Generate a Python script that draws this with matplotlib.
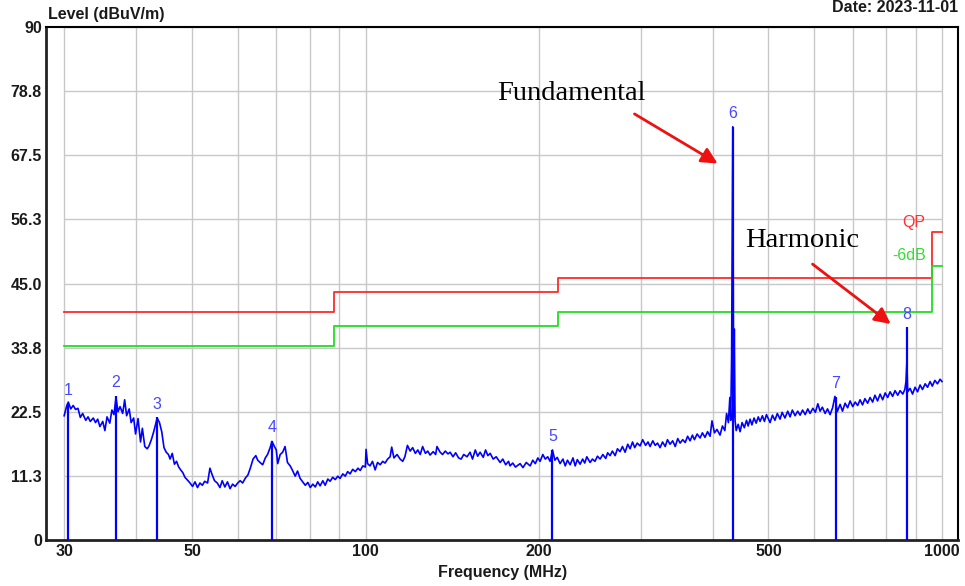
import numpy as np
import matplotlib
matplotlib.use('Agg')
from matplotlib import pyplot as plt

# --- Data section --- #
freq_mhz = [
    30.0, 30.3, 30.5, 30.8, 31.1, 31.4, 31.7, 32.0, 32.3, 32.7, 33.0, 33.3, 33.7, 34.0, 34.3, 34.6,
    35.0, 35.3, 35.6, 36.0, 36.3, 36.6, 36.9, 37.2, 37.5, 37.9, 38.2, 38.5, 38.9, 39.2, 39.6, 39.9,
    40.3, 40.7, 41.0, 41.4, 41.8, 42.1, 42.5, 42.9, 43.2, 43.5, 43.9, 44.3, 44.7, 45.1, 45.5, 45.8,
    46.2, 46.6, 47.0, 47.4, 47.7, 48.2, 48.6, 49.0, 49.6, 50.1, 50.6, 51.1, 51.6, 52.1, 52.6, 53.2,
    53.7, 54.2, 54.7, 55.3, 55.9, 56.4, 57.0, 57.6, 58.2, 58.8, 59.4, 60.0, 60.6, 61.2, 61.9, 62.5,
    63.1, 63.8, 64.5, 65.0, 65.6, 66.3, 67.0, 67.6, 68.3, 68.8, 69.4, 70.0, 70.4, 71.1, 71.8, 72.5,
    73.2, 74.0, 74.7, 75.5, 76.2, 77.0, 77.8, 78.6, 79.4, 80.2, 81.0, 81.8, 82.6, 83.4, 84.3, 85.1,
    86.0, 86.8, 87.7, 88.6, 89.5, 90.3, 91.3, 92.2, 93.1, 94.0, 95.0, 96.0, 97.0, 97.9, 98.9, 99.9,
    100.2, 100.8, 101.8, 102.8, 103.9, 104.9, 106.0, 107.1, 108.1, 109.2, 110.3, 111.0, 112.0, 113.4,
    114.8, 116.0, 117.0, 118.2, 119.5, 120.7, 122.0, 123.2, 124.4, 125.6, 127.0, 128.2, 129.4, 131.0,
    132.3, 133.0, 134.7, 136.0, 137.5, 139.0, 140.2, 141.8, 143.3, 145.0, 146.5, 148.0, 150.0, 151.8,
    153.3, 155.0, 156.5, 158.0, 160.0, 161.5, 163.0, 164.5, 166.5, 168.5, 171.2, 173.0, 175.0, 177.0,
    178.1, 180.0, 182.0, 185.4, 187.5, 190.0, 193.0, 195.0, 197.0, 199.0, 200.8, 203.0, 205.0, 207.0,
    209.0, 211.0, 213.0, 215.0, 217.5, 220.0, 222.0, 224.0, 226.4, 229.0, 231.0, 233.0, 235.6, 238.0,
    240.0, 242.0, 245.2, 247.5, 250.0, 252.5, 255.2, 258.0, 261.0, 263.0, 265.6, 268.0, 271.0, 273.5,
    276.4, 279.0, 282.0, 285.0, 287.7, 290.5, 293.0, 296.0, 299.4, 302.5, 306.0, 309.0, 311.6, 315.0,
    318.0, 321.0, 324.3, 327.5, 331.0, 334.0, 337.5, 341.0, 344.5, 348.0, 351.3, 355.0, 358.5, 362.0,
    365.6, 369.0, 372.0, 376.0, 380.5, 384.0, 388.0, 392.0, 396.0, 399.0, 403.0, 407.0, 412.0, 416.0,
    420.0, 423.0, 426.0, 428.5, 430.0, 431.5, 433.6, 435.0, 436.2, 437.5, 439.5, 443.0, 446.4, 450.0,
    454.0, 458.0, 461.0, 464.6, 468.0, 472.0, 476.0, 480.0, 483.5, 488.0, 492.0, 496.0, 500.0, 503.2,
    508.0, 513.0, 518.0, 523.7, 528.0, 534.0, 540.0, 545.1, 550.0, 556.0, 562.0, 567.3, 573.0, 579.0,
    585.0, 590.4, 597.0, 603.0, 609.0, 614.5, 620.0, 627.0, 633.0, 639.5, 646.0, 652.0, 658.0, 665.6,
    672.0, 679.0, 686.0, 692.7, 700.0, 707.0, 714.0, 720.9, 728.0, 735.0, 743.0, 750.3, 758.0, 765.0,
    773.0, 781.0, 789.0, 797.0, 805.0, 812.7, 821.0, 829.0, 838.0, 846.0, 855.0, 862.0, 866.0, 869.0,
    872.0, 880.3, 889.0, 898.0, 907.0, 916.2, 925.0, 935.0, 944.0, 953.5, 962.0, 972.0, 982.0, 992.4,
    1000.0,
]
level_dbuv = [
    21.8, 23.5, 24.2, 23.0, 23.6, 22.9, 23.1, 21.5, 22.2, 21.0, 21.6, 20.8, 21.4, 20.6, 21.2, 19.9,
    20.8, 19.2, 21.6, 20.5, 22.8, 22.0, 25.0, 22.5, 23.4, 22.2, 24.6, 21.8, 23.0, 20.6, 21.4, 18.6,
    21.3, 17.2, 19.6, 16.4, 16.0, 16.5, 17.6, 19.0, 20.2, 21.4, 20.6, 19.0, 16.2, 15.4, 15.0, 14.2,
    15.2, 13.3, 13.8, 12.8, 12.4, 11.8, 11.0, 10.6, 10.0, 9.4, 10.2, 9.2, 10.0, 9.6, 10.3, 10.0,
    12.6, 11.4, 10.4, 10.0, 9.2, 10.4, 9.3, 10.2, 9.0, 9.8, 9.4, 10.0, 10.4, 10.0, 10.9, 11.4,
    12.6, 14.2, 14.8, 14.0, 13.6, 13.2, 14.4, 15.0, 16.2, 17.3, 16.5, 15.8, 13.4, 15.0, 15.4, 16.4,
    13.6, 13.0, 12.2, 11.2, 12.1, 10.8, 10.2, 9.6, 10.1, 9.2, 9.8, 9.3, 10.2, 9.5, 10.4, 9.6,
    10.7, 10.3, 11.0, 10.6, 11.2, 10.8, 11.6, 11.2, 12.0, 11.6, 12.4, 12.0, 12.6, 12.2, 13.0, 12.8,
    15.9, 13.4, 13.0, 13.8, 12.3, 13.6, 13.2, 13.8, 13.5, 14.2, 14.6, 16.3, 14.4, 15.0,
    14.2, 13.8, 14.6, 16.6, 15.6, 16.2, 15.2, 15.8, 15.0, 16.4, 15.2, 15.6, 14.9, 15.5,
    15.0, 16.4, 15.4, 15.0, 15.6, 15.1, 15.4, 14.6, 15.3, 14.4, 14.2, 15.0, 14.6, 15.4,
    14.2, 15.8, 14.7, 15.4, 14.5, 15.8, 14.8, 15.2, 14.2, 14.6, 13.6, 14.2, 13.2, 13.8,
    13.0, 13.5, 12.8, 13.4, 12.7, 13.6, 13.0, 14.0, 13.4, 14.4, 13.8, 15.0, 14.2, 14.6,
    13.8, 15.8, 14.0, 14.5, 13.4, 14.2, 13.0, 14.0, 13.2, 14.4, 13.0, 14.1, 13.3, 14.2,
    13.5, 14.6, 13.6, 14.2, 13.8, 14.7, 14.2, 15.0, 14.3, 15.3, 14.8, 15.6, 14.8, 16.0,
    15.5, 16.4, 15.4, 16.8, 16.0, 17.2, 16.2, 17.0, 16.5, 17.6, 16.6, 17.2, 16.4, 17.4,
    16.6, 17.0, 16.2, 17.2, 16.4, 17.6, 16.8, 17.4, 16.4, 17.8, 17.0, 17.6, 17.1, 18.2,
    17.4, 18.4, 17.6, 18.6, 17.9, 18.8, 18.0, 19.0, 18.2, 20.9, 18.8, 19.4, 18.4, 20.0,
    19.2, 22.2, 20.6, 25.0, 21.0, 32.0, 72.5, 21.5, 37.0, 21.0, 19.2, 20.3, 19.0, 20.6,
    19.7, 21.0, 20.0, 21.2, 20.2, 21.4, 20.5, 21.6, 20.8, 21.8, 20.8, 22.0, 21.2, 20.6,
    21.9, 21.0, 22.2, 21.2, 22.4, 21.4, 22.6, 21.6, 22.8, 21.8, 22.6, 21.9, 22.8, 22.0,
    23.0, 22.2, 23.1, 22.4, 23.9, 22.6, 23.3, 22.2, 23.0, 22.0, 23.2, 25.2, 22.5, 23.8,
    22.6, 24.0, 23.2, 24.4, 23.4, 24.2, 23.6, 24.6, 23.7, 24.8, 24.0, 25.0, 24.2, 25.4,
    24.4, 25.6, 24.6, 25.8, 25.0, 26.0, 25.2, 26.2, 25.4, 26.2, 25.6, 26.4, 27.8, 31.2,
    26.0, 26.6, 25.6, 26.8, 26.0, 27.2, 26.4, 27.4, 26.8, 27.8, 27.0, 28.0, 27.4, 28.2,
    27.8,
]

# limit lines (step edges)
limit_freq = [30, 88, 88, 216, 216, 960, 960, 1000]
qp_limit = [40.0, 40.0, 43.5, 43.5, 46.0, 46.0, 54.0, 54.0]
margin_limit = [34.0, 34.0, 37.5, 37.5, 40.0, 40.0, 48.0, 48.0]

marker_ids = ['1', '2', '3', '4', '5', '6', '7', '8']
marker_freq = [30.5, 36.9, 43.5, 68.8, 211.0, 433.6, 654.0, 869.0]
marker_level = [24.0, 25.3, 21.5, 17.4, 15.8, 72.5, 25.1, 37.3]

y_tick_labels = ['0', '11.3', '22.5', '33.8', '45.0', '56.3', '67.5', '78.8', '90']
x_tick_values = [30, 50, 100, 200, 500, 1000]
x_grid_values = [30, 40, 50, 60, 70, 80, 90, 100, 200, 300, 400, 500, 600, 700, 800, 900, 1000]

# --- Plotting section --- #
plt.rcParams['font.family'] = ['Liberation Sans', 'DejaVu Sans']
text_color = '#1a1a1a'

fig = plt.figure(figsize=(9.65, 5.86), dpi=100)
ax = fig.add_axes([46 / 965, 46 / 586, 912 / 965, 513 / 586])
ax.set_xscale('log')
ax.set_xlim(27.9, 1066)
ax.set_ylim(0, 90)

y_ticks = np.linspace(0, 90, len(y_tick_labels))
grid_kw = dict(color='#c8c8c8', lw=1.0, zorder=0)
ax.hlines(y_ticks[1:], 30, 1000, **grid_kw)
ax.vlines(x_grid_values, 0, 90, **grid_kw)

ax.plot(limit_freq, qp_limit, color='#ff2a2a', lw=1.3, zorder=2)
ax.plot(limit_freq, margin_limit, color='#22dd22', lw=1.3, zorder=2)

ax.plot(freq_mhz, level_dbuv, color='#0000ff', lw=1.2, zorder=3)
ax.vlines(marker_freq, 0, marker_level, color='#0000ff', lw=1.6, zorder=3)
for mid, f, lv in zip(marker_ids, marker_freq, marker_level):
    ax.annotate(mid, (f, lv), xytext=(0, 4), textcoords='offset points',
                ha='center', va='bottom', color='#4848ff', fontsize=11.5)

ax.text(937, 54.3, 'QP', color='#ff3030', fontsize=11.5, ha='right', va='bottom')
ax.text(937, 48.6, '-6dB', color='#33dd33', fontsize=11.5, ha='right', va='bottom')

# annotations
serif = ['Liberation Serif', 'DejaVu Serif']
ax.text(169, 78.3, 'Fundamental', family=serif, fontsize=20.5, va='center', ha='left', color='black')
ax.annotate('', xy=(412, 65.8), xytext=(290, 75.0),
            arrowprops=dict(arrowstyle='-|>', color='#ee1111', lw=2, mutation_scale=24))
ax.text(455, 52.6, 'Harmonic', family=serif, fontsize=20.5, va='center', ha='left', color='black')
ax.annotate('', xy=(822, 37.6), xytext=(591, 48.7),
            arrowprops=dict(arrowstyle='-|>', color='#ee1111', lw=2, mutation_scale=24))

ax.set_xticks(x_tick_values)
ax.set_xticklabels([str(v) for v in x_tick_values])
ax.xaxis.set_minor_locator(matplotlib.ticker.NullLocator())
ax.set_yticks(y_ticks)
ax.set_yticklabels(y_tick_labels)
ax.tick_params(length=0, labelsize=11.5, colors=text_color, pad=3)
for lab in ax.get_xticklabels() + ax.get_yticklabels():
    lab.set_fontweight('bold')

for side in ['left', 'bottom']:
    ax.spines[side].set_linewidth(2)
    ax.spines[side].set_color('#222222')
for side in ['top', 'right']:
    ax.spines[side].set_linewidth(1.5)
    ax.spines[side].set_color('black')

fig.text(48 / 965, 1 - 15 / 586, 'Level (dBuV/m)', fontsize=11.5, fontweight='bold',
         color=text_color, ha='left', va='center')
fig.text(958 / 965, 1 - 8 / 586, 'Date: 2023-11-01', fontsize=11.5, fontweight='bold',
         color=text_color, ha='right', va='center')
fig.text(503 / 965, 1 - 573 / 586, 'Frequency (MHz)', fontsize=11.5, fontweight='bold',
         color=text_color, ha='center', va='center')

fig.savefig('out.png', dpi=100)
